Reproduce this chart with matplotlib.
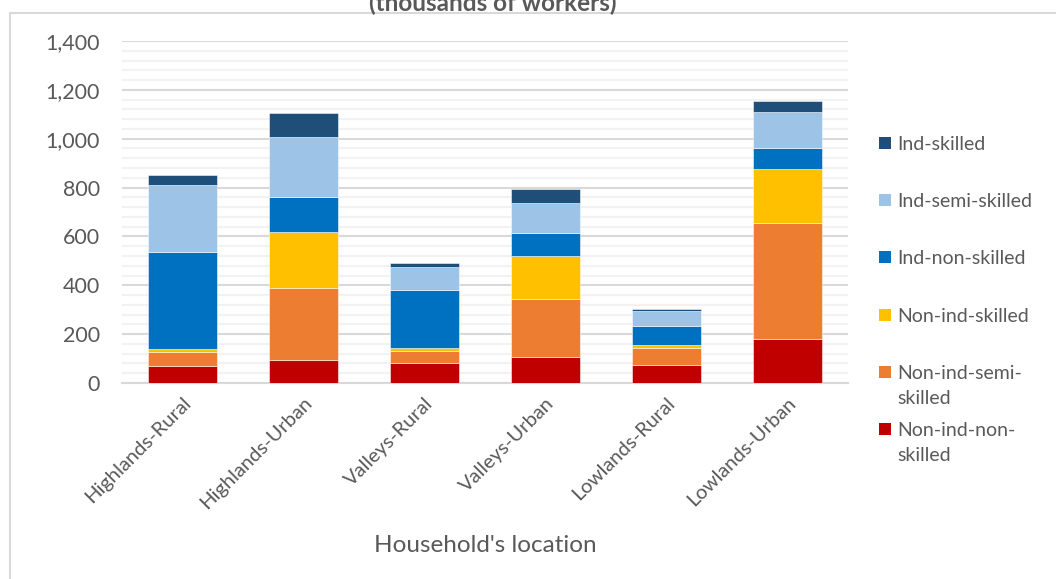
import matplotlib
matplotlib.use("Agg")
import matplotlib.pyplot as plt
from matplotlib.patches import Rectangle
from matplotlib.ticker import MultipleLocator, FuncFormatter

categories = ["Highlands-Rural", "Highlands-Urban", "Valleys-Rural",
              "Valleys-Urban", "Lowlands-Rural", "Lowlands-Urban"]
non_ind_non_skilled = [70, 94, 82, 106, 75, 181]
non_ind_semi_skilled = [57, 295, 49, 238, 70, 473]
non_ind_skilled = [14, 228, 14, 176, 9, 221]
ind_non_skilled = [394, 144, 234, 94, 79, 87]
ind_semi_skilled = [275, 246, 96, 121, 62, 146]
ind_skilled = [40, 98, 18, 58, 7, 48]

series = [
    ("Non-ind-non-\nskilled", non_ind_non_skilled, "#C00000"),
    ("Non-ind-semi-\nskilled", non_ind_semi_skilled, "#ED7D31"),
    ("Non-ind-skilled", non_ind_skilled, "#FFC000"),
    ("Ind-non-skilled", ind_non_skilled, "#0070C0"),
    ("Ind-semi-skilled", ind_semi_skilled, "#9DC3E6"),
    ("Ind-skilled", ind_skilled, "#1F4E79"),
]

W, H = 1056, 579
fig = plt.figure(figsize=(W / 100, H / 100), dpi=100)
font = ["Lato", "DejaVu Sans"]
plt.rcParams["font.family"] = font
gray = "#595959"

# chart area border
fig.add_artist(Rectangle((10 / W, -0.1), 1.2, 1 - 13 / H + 0.1, transform=fig.transFigure,
                         fill=False, edgecolor="#D9D9D9", linewidth=1.5, clip_on=False))

ax = fig.add_axes([122 / W, 1 - 383 / H, (848 - 122) / W, (383 - 41) / H])
x = list(range(len(categories)))
bottom = [0] * len(categories)
for name, vals, col in series:
    ax.bar(x, vals, width=0.57, bottom=bottom, color=col, edgecolor=(1, 1, 1, 0.6),
           linewidth=0.6, zorder=3)
    bottom = [b + v for b, v in zip(bottom, vals)]

ax.set_xlim(-0.5, len(categories) - 0.5)
ax.set_ylim(0, 1400)
ax.yaxis.set_major_locator(MultipleLocator(200))
ax.yaxis.set_minor_locator(MultipleLocator(40))
ax.yaxis.set_major_formatter(FuncFormatter(lambda v, p: f"{int(v):,}"))
ax.grid(axis="y", which="major", color="#D9D9D9", linewidth=1.5, zorder=0)
ax.grid(axis="y", which="minor", color="#F2F2F2", linewidth=1.5, zorder=0)
for s in ["top", "right", "left"]:
    ax.spines[s].set_visible(False)
ax.spines["bottom"].set_color("#D9D9D9")
ax.spines["bottom"].set_linewidth(1.5)
ax.tick_params(axis="y", which="both", length=0, labelsize=15.5, labelcolor=gray, pad=16)
ax.tick_params(axis="x", length=0, labelsize=14.5, labelcolor=gray, pad=8)
ax.set_xticks(x)
ax.set_xticklabels(categories, rotation=45, ha="right", va="top", rotation_mode="anchor")

ax.set_xlabel("Household's location", fontsize=17.5, color=gray)
ax.xaxis.set_label_coords(0.5, -(545 - 383) / (383 - 41), transform=ax.transAxes)
ax.xaxis.label.set_va("center")

fig.text(493 / W, 1 - 3 / H, "(thousands of workers)", ha="center", va="center",
         fontsize=17.5, fontweight="bold", color=gray)

# legend, drawn in Excel-like equal slots
leg_items = list(reversed(series))
for i, (name, vals, col) in enumerate(leg_items):
    yc = 143 + i * 57.2
    fig.add_artist(Rectangle((879 / W, 1 - (yc + 6) / H), 12 / W, 12 / H,
                             transform=fig.transFigure, facecolor=col, edgecolor="none"))
    fig.text(897 / W, 1 - (yc - 7) / H, name, ha="left", va="top", fontsize=14,
             color=gray, linespacing=1.55)

fig.savefig("out.png", dpi=100)
